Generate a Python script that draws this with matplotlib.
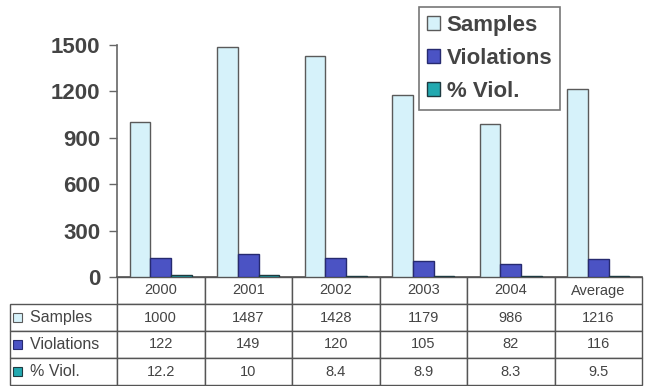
import matplotlib.pyplot as plt
import numpy as np
from matplotlib.table import Table
from matplotlib.patches import Rectangle

years = ['2000', '2001', '2002', '2003', '2004', 'Average']
samples = [1000, 1487, 1428, 1179, 986, 1216]
violations = [122, 149, 120, 105, 82, 116]
pct_viol = [12.2, 10, 8.4, 8.9, 8.3, 9.5]

series = ['Samples', 'Violations', '% Viol.']
face_colors = ['#d6f2fa', '#4b53c4', '#22a9b0']
edge_colors = ['#5a5a5a', '#262a70', '#1e3a40']
text_color = '#444444'

plt.rcParams['font.family'] = ['Liberation Sans', 'DejaVu Sans']

fig = plt.figure(figsize=(6.47, 3.86), dpi=100)
ax = fig.add_axes([117 / 647, 1 - 277 / 386, 525 / 647, 232 / 386])

x = np.arange(len(years))
width = 0.235
values = [samples, violations, pct_viol]
for i, vals in enumerate(values):
    ax.bar(x + (i - 1) * width, vals, width, color=face_colors[i],
           edgecolor=edge_colors[i], linewidth=1.0, label=series[i], zorder=3)

ax.set_xlim(-0.5, len(years) - 0.5)
ax.set_ylim(0, 1500)
ax.set_yticks([0, 300, 600, 900, 1200, 1500])
ax.tick_params(axis='y', direction='out', length=6, width=1, color='#666666',
               labelsize=16, labelcolor=text_color, pad=6)
for lab in ax.get_yticklabels():
    lab.set_fontweight('bold')
ax.set_xticks([])
for side in ['top', 'right']:
    ax.spines[side].set_visible(False)
ax.spines['left'].set_color('#666666')
ax.spines['bottom'].set_color('#555555')
ax.spines['left'].set_linewidth(1.2)
ax.spines['bottom'].set_linewidth(1.2)

# data table underneath the bars
label_w = 107 / 525
col_w = 1 / len(years)
tbl = Table(ax, bbox=[-label_w, -108 / 232, 1 + label_w, 108 / 232])
row_h = 0.25
for j, yr in enumerate(years):
    c = tbl.add_cell(0, j + 1, col_w, row_h, text=yr, loc='center',
                     edgecolor='#555555')
    c.get_text().set_color(text_color)
for r, (name, vals) in enumerate(zip(series, values)):
    c = tbl.add_cell(r + 1, 0, label_w, row_h, text='  ' + name, loc='left',
                     edgecolor='#555555')
    c.get_text().set_color(text_color)
    for j, v in enumerate(vals):
        c = tbl.add_cell(r + 1, j + 1, col_w, row_h, text=f'{v:g}',
                         loc='center', edgecolor='#555555')
        c.get_text().set_color(text_color)
tbl.auto_set_font_size(False)
tbl.set_fontsize(10.5)
for (r, ccol), cell in tbl.get_celld().items():
    if ccol == 0:
        cell.get_text().set_fontsize(11.5)
ax.add_table(tbl)

# colour keys inside the row label cells
for r in range(3):
    yc = -108 / 232 + (2.5 - r) * (108 / 232) / 4
    ax.add_patch(Rectangle((-104 / 525, yc - 4.5 / 232), 9 / 525, 9 / 232,
                           transform=ax.transAxes, clip_on=False,
                           facecolor=face_colors[r], edgecolor=edge_colors[r],
                           linewidth=0.8, zorder=5))

leg = ax.legend(loc='upper left', bbox_to_anchor=(419 / 647, 1 - 7 / 386),
                bbox_transform=fig.transFigure, borderaxespad=0,
                frameon=True, fancybox=False, handlelength=0.6,
                handleheight=0.6, handletextpad=0.3, labelspacing=0.55,
                borderpad=0.35,
                prop={'size': 16, 'weight': 'bold'})
leg.get_frame().set_edgecolor('#555555')
leg.get_frame().set_linewidth(1.2)
for t in leg.get_texts():
    t.set_color(text_color)

fig.savefig('out.png', dpi=100)
